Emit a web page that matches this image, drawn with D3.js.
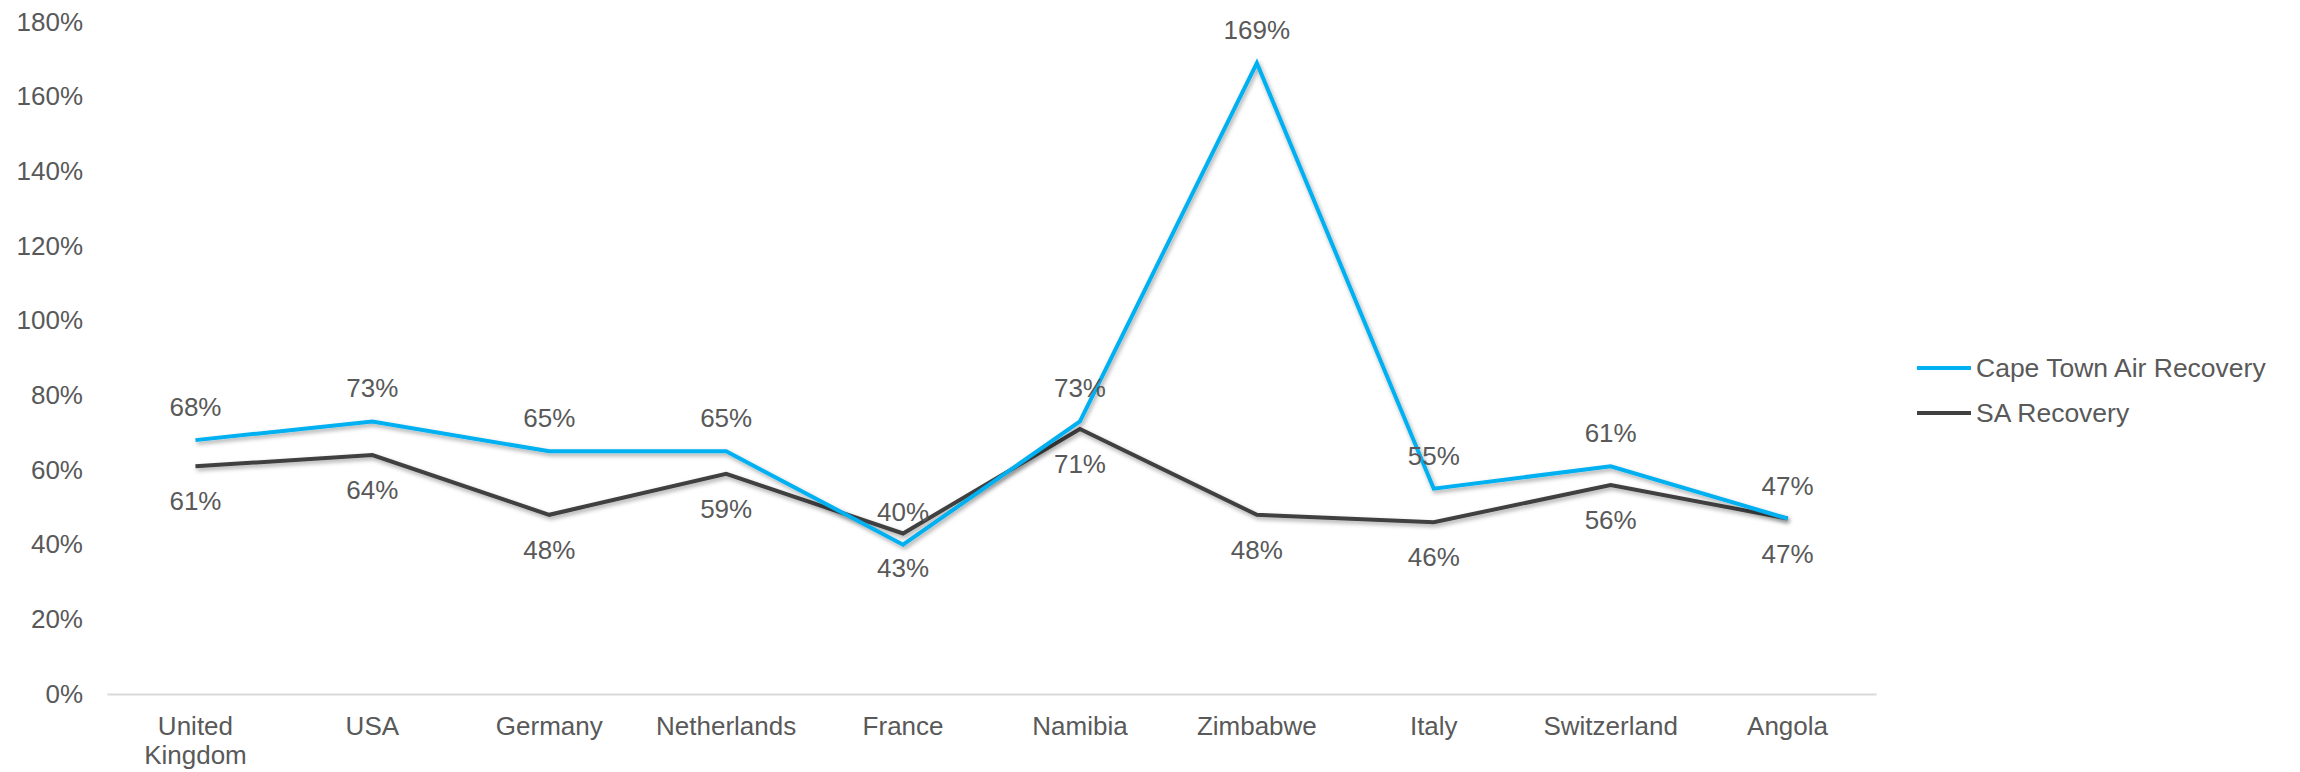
<!DOCTYPE html>
<html>
<head>
<meta charset="utf-8">
<script src="https://cdn.jsdelivr.net/npm/d3@7"></script>
<style>
  html, body { margin: 0; padding: 0; background: #ffffff; }
  svg { display: block; }
  text { font-family: "Liberation Sans", Arial, sans-serif; fill: #595959; }
</style>
</head>
<body>
<svg id="chart" width="2300" height="772"></svg>
<script>
// Recovery by source market
const categories = ["United Kingdom", "USA", "Germany", "Netherlands", "France",
                    "Namibia", "Zimbabwe", "Italy", "Switzerland", "Angola"];
const capeTownAir = [0.68, 0.73, 0.65, 0.65, 0.40, 0.73, 1.69, 0.55, 0.61, 0.47];
const saRecovery  = [0.61, 0.64, 0.48, 0.59, 0.43, 0.71, 0.48, 0.46, 0.56, 0.47];
const yTicks = [0, 0.2, 0.4, 0.6, 0.8, 1.0, 1.2, 1.4, 1.6, 1.8];
const seriesNames = ["Cape Town Air Recovery", "SA Recovery"];

const series = [
  { name: seriesNames[0], values: capeTownAir, color: "#00B0F0", labelPos: "above" },
  { name: seriesNames[1], values: saRecovery,  color: "#404040", labelPos: "below" }
];

const FONT = 26;
const svg = d3.select("#chart");
const plot = { left: 107, right: 1876, top: 22, bottom: 694 };

const x = d3.scaleBand().domain(categories).range([plot.left, plot.right]);
const y = d3.scaleLinear().domain([0, 1.8]).range([plot.bottom, plot.top]);
const fmt = d3.format(".0%");

// soft drop shadow under the lines
const defs = svg.append("defs");
const f = defs.append("filter").attr("id", "shadow")
  .attr("x", "-5%").attr("y", "-20%").attr("width", "110%").attr("height", "140%");
f.append("feDropShadow").attr("dx", 1.5).attr("dy", 2.5).attr("stdDeviation", 2)
  .attr("flood-color", "#000").attr("flood-opacity", 0.35);

// y axis labels (no axis line, no gridlines)
const yAxis = d3.axisLeft(y).tickValues(yTicks).tickFormat(fmt).tickSize(0).tickPadding(0);
const yg = svg.append("g").attr("transform", "translate(83,0)").call(yAxis);
yg.select(".domain").remove();
yg.selectAll("text").attr("font-size", FONT).attr("fill", "#595959")
  .style("font-family", "'Liberation Sans', Arial, sans-serif");

// x axis baseline and category labels
const xAxis = d3.axisBottom(x).tickSize(0).tickPadding(0);
const xg = svg.append("g").attr("transform", `translate(0,${plot.bottom})`).call(xAxis);
xg.select(".domain").attr("stroke", "#d9d9d9").attr("stroke-width", 2);
xg.selectAll(".tick text").each(function(d) {
  const t = d3.select(this);
  t.text(null).attr("y", 0).attr("dy", null)
    .attr("font-size", FONT).attr("fill", "#595959")
    .style("font-family", "'Liberation Sans', Arial, sans-serif");
  const words = d === "United Kingdom" ? ["United", "Kingdom"] : [d];
  words.forEach((w, i) => {
    t.append("tspan").attr("x", 0).attr("y", 41 + i * 29).text(w);
  });
});

const cx = d => x(d) + x.bandwidth() / 2;
const line = d3.line().x((v, i) => cx(categories[i])).y(v => y(v));

// draw SA first so Cape Town sits on top
[series[1], series[0]].forEach(s => {
  svg.append("path")
    .datum(s.values)
    .attr("d", line)
    .attr("fill", "none")
    .attr("stroke", s.color)
    .attr("stroke-width", 4)
    .attr("stroke-linejoin", "miter")
    .attr("filter", "url(#shadow)");
});

// data labels
series.forEach(s => {
  svg.append("g").selectAll("text")
    .data(s.values)
    .join("text")
    .attr("x", (v, i) => cx(categories[i]))
    .attr("y", v => y(v) + (s.labelPos === "above" ? -33 : 35))
    .attr("dominant-baseline", "central")
    .attr("text-anchor", "middle")
    .attr("font-size", FONT)
    .attr("fill", "#404040")
    .text(v => fmt(v));
});

// legend
const legend = svg.append("g");
series.forEach((s, i) => {
  const ly = 368 + i * 45;
  legend.append("line")
    .attr("x1", 1917).attr("x2", 1971).attr("y1", ly).attr("y2", ly)
    .attr("stroke", s.color).attr("stroke-width", 4);
  legend.append("text")
    .attr("x", 1976).attr("y", ly)
    .attr("dominant-baseline", "central")
    .attr("font-size", 26.5)
    .attr("fill", "#595959")
    .text(s.name);
});
</script>
</body>
</html>
